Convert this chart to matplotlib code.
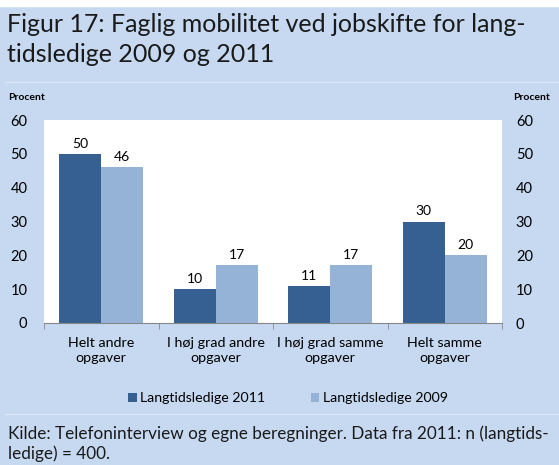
import numpy as np
import matplotlib.pyplot as plt

categories = ["Helt andre\nopgaver", "I høj grad andre\nopgaver",
              "I høj grad samme\nopgaver", "Helt samme\nopgaver"]
values_2011 = [50, 10, 11, 30]
values_2009 = [46, 17, 17, 20]
series_names = ["Langtidsledige 2011", "Langtidsledige 2009"]
yticks = [0, 10, 20, 30, 40, 50, 60]

BG = "#c6d9f1"
DARK = "#376092"
LIGHT = "#95b3d7"

plt.rcParams["font.family"] = ["Lato", "DejaVu Sans"]

fig = plt.figure(figsize=(5.59, 4.65), dpi=100)
fig.patch.set_facecolor(BG)
W, H = 559, 465

# white strip at the top
fig.patches.append(plt.Rectangle((0, 1 - 6 / H), 1, 6 / H, transform=fig.transFigure,
                                 color="white", zorder=0))

fig.text(7 / W, 1 - 24 / H, "Figur 17: Faglig mobilitet ved jobskifte for lang-",
         fontsize=18, va="center", ha="left", color="#1a1a1a")
fig.text(7 / W, 1 - 55 / H, "tidsledige 2009 og 2011",
         fontsize=18, va="center", ha="left", color="#1a1a1a")

ax = fig.add_axes([44 / W, 1 - 323 / H, 458 / W, 203 / H])
ax.set_facecolor("white")
x = np.arange(len(categories))
bw = 0.367
b1 = ax.bar(x - bw / 2, values_2011, bw, color=DARK, label=series_names[0])
b2 = ax.bar(x + bw / 2, values_2009, bw, color=LIGHT, label=series_names[1])
for bars in (b1, b2):
    for bar in bars:
        h = bar.get_height()
        ax.annotate(f"{h:.0f}", (bar.get_x() + bar.get_width() / 2, h),
                    textcoords="offset points", xytext=(0, 3),
                    ha="center", va="bottom", fontsize=10)

ax.set_xlim(-0.5, len(categories) - 0.5)
ax.set_ylim(0, 60)
ax.set_yticks(yticks)
ax.set_xticks(x)
ax.set_xticklabels(categories, fontsize=10.3, linespacing=1.35)
ax.set_xticks(np.arange(len(categories) + 1) - 0.5, minor=True)
ax.tick_params(axis="x", which="major", length=0, pad=10)
ax.tick_params(axis="x", which="minor", length=4, color="#868686")
ax.tick_params(axis="y", length=0, labelsize=10.5, pad=12)
for s in ["top", "right", "left"]:
    ax.spines[s].set_visible(False)
ax.spines["bottom"].set_color("#868686")

ax2 = ax.twinx()
ax2.set_ylim(0, 60)
ax2.set_yticks(yticks)
ax2.tick_params(axis="y", length=0, labelsize=10.5, pad=10)
for s in ax2.spines.values():
    s.set_visible(False)

fig.text(8 / W, 1 - 97 / H, "Procent", fontsize=7.5, fontweight="bold", va="center", ha="left")
fig.text(550 / W, 1 - 97 / H, "Procent", fontsize=7.5, fontweight="bold", va="center", ha="right")

fig.legend(handles=[b1, b2], labels=series_names, loc="center", bbox_to_anchor=(288 / W, 1 - 398 / H),
           ncol=2, frameon=False, fontsize=10.2, handlelength=0.6, handleheight=0.6,
           handletextpad=0.25, columnspacing=3.2)

for yy in (82, 414):
    fig.add_artist(plt.Line2D([5 / W, 1], [1 - yy / H] * 2, color="#dbe6f5", linewidth=1))

fig.text(8 / W, 1 - 434 / H,
         "Kilde: Telefoninterview og egne beregninger. Data fra 2011: n (langtids-",
         fontsize=12.3, va="center", ha="left", color="#1a1a1a")
fig.text(8 / W, 1 - 454 / H, "ledige) = 400.",
         fontsize=12.3, va="center", ha="left", color="#1a1a1a")

fig.savefig("out.png", dpi=100, facecolor=BG)
